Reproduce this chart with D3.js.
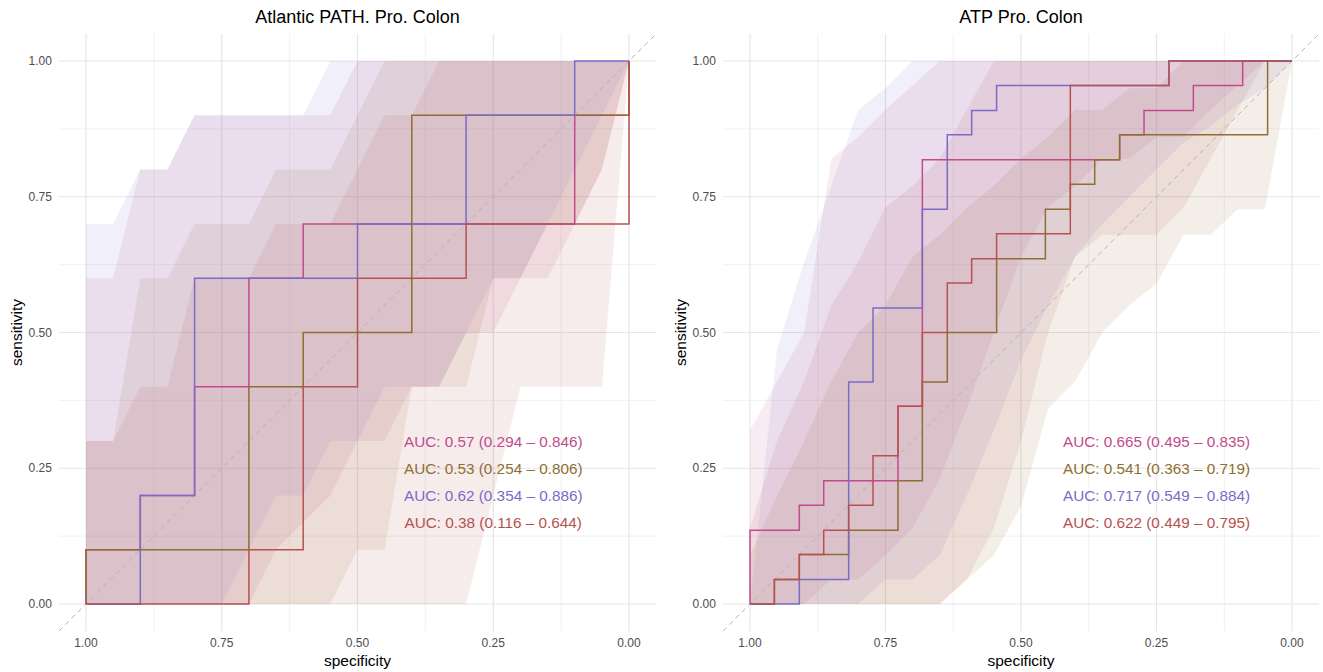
<!DOCTYPE html>
<html lang="en">
<head>
<meta charset="utf-8">
<title>ROC curves - Pro. Colon</title>
<script src="https://cdn.jsdelivr.net/npm/d3@7"></script>
<style>
  body { margin: 0; background: #fff; }
  text { font-family: "Liberation Sans", Arial, Helvetica, sans-serif; }
</style>
</head>
<body>
<div id="chart"></div>
<script>
// model order / colours (legend order in the AUC labels)
var models = ['pink', 'brown', 'purple', 'red'];
var colors = ['#C24A8C', '#8E6E32', '#7B6AC6', '#B5524F'];

var ticks = [1, 0.75, 0.5, 0.25, 0];
var minorTicks = [0.875, 0.625, 0.375, 0.125];

// specificities where the CI of sensitivity was computed
var ciSpec = [1, 0.95, 0.9, 0.85, 0.8, 0.75, 0.7, 0.65, 0.6, 0.55, 0.5, 0.45, 0.4, 0.35, 0.3, 0.25, 0.2, 0.15, 0.1, 0.05, 0];

// ---- panel 1: Atlantic PATH. Pro. Colon ----
var p1Titles = 'Atlantic PATH. Pro. Colon';
var p1Auc = ['AUC: 0.57 (0.294 \u2013 0.846)', 'AUC: 0.53 (0.254 \u2013 0.806)',
             'AUC: 0.62 (0.354 \u2013 0.886)', 'AUC: 0.38 (0.116 \u2013 0.644)'];

var p1PinkSpec   = [1, 1, 0.9, 0.9, 0.8, 0.8, 0.7, 0.7, 0.6, 0.6, 0.1, 0.1, 0, 0];
var p1PinkSens   = [0, 0.1, 0.1, 0.2, 0.2, 0.4, 0.4, 0.6, 0.6, 0.7, 0.7, 0.9, 0.9, 1];
var p1BrownSpec  = [1, 1, 0.7, 0.7, 0.6, 0.6, 0.4, 0.4, 0, 0];
var p1BrownSens  = [0, 0.1, 0.1, 0.4, 0.4, 0.5, 0.5, 0.9, 0.9, 1];
var p1PurpleSpec = [1, 0.9, 0.9, 0.8, 0.8, 0.5, 0.5, 0.3, 0.3, 0.1, 0.1, 0];
var p1PurpleSens = [0, 0, 0.2, 0.2, 0.6, 0.6, 0.7, 0.7, 0.9, 0.9, 1, 1];
var p1RedSpec    = [1, 0.7, 0.7, 0.6, 0.6, 0.5, 0.5, 0.3, 0.3, 0, 0];
var p1RedSens    = [0, 0, 0.1, 0.1, 0.4, 0.4, 0.6, 0.6, 0.7, 0.7, 1];

var p1PinkLo   = [0, 0, 0, 0, 0, 0, 0, 0.1, 0.15, 0.2, 0.3, 0.3, 0.4, 0.4, 0.5, 0.5, 0.6, 0.6, 0.7, 0.8, 1];
var p1PinkHi   = [0.6, 0.6, 0.8, 0.8, 0.9, 0.9, 0.9, 0.9, 0.9, 0.9, 1, 1, 1, 1, 1, 1, 1, 1, 1, 1, 1];
var p1BrownLo  = [0, 0, 0, 0, 0, 0, 0, 0, 0, 0, 0.1, 0.1, 0.4, 0.4, 0.4, 0.6, 0.6, 0.7, 0.7, 0.8, 1];
var p1BrownHi  = [0.3, 0.3, 0.6, 0.6, 0.7, 0.7, 0.7, 0.8, 0.8, 0.8, 0.9, 1, 1, 1, 1, 1, 1, 1, 1, 1, 1];
var p1PurpleLo = [0, 0, 0, 0, 0, 0, 0.1, 0.2, 0.2, 0.3, 0.3, 0.4, 0.4, 0.4, 0.5, 0.6, 0.6, 0.7, 0.8, 0.9, 1];
var p1PurpleHi = [0.7, 0.7, 0.8, 0.8, 0.9, 0.9, 0.9, 0.9, 0.9, 1, 1, 1, 1, 1, 1, 1, 1, 1, 1, 1, 1];
var p1RedLo    = [0, 0, 0, 0, 0, 0, 0, 0, 0, 0, 0, 0, 0, 0, 0, 0.2, 0.4, 0.4, 0.4, 0.4, 1];
var p1RedHi    = [0.3, 0.3, 0.4, 0.4, 0.6, 0.6, 0.6, 0.7, 0.7, 0.7, 0.8, 0.9, 0.9, 1, 1, 1, 1, 1, 1, 1, 1];

// ---- panel 2: ATP Pro. Colon ----
var p2Titles = 'ATP Pro. Colon';
var p2Auc = ['AUC: 0.665 (0.495 \u2013 0.835)', 'AUC: 0.541 (0.363 \u2013 0.719)',
             'AUC: 0.717 (0.549 \u2013 0.884)', 'AUC: 0.622 (0.449 \u2013 0.795)'];

var p2PinkSpec   = [1, 1, 0.909, 0.909, 0.864, 0.864, 0.727, 0.727, 0.682, 0.682, 0.318, 0.318, 0.273, 0.273, 0.182, 0.182, 0.091, 0.091, 0];
var p2PinkSens   = [0, 0.136, 0.136, 0.182, 0.182, 0.227, 0.227, 0.364, 0.364, 0.818, 0.818, 0.864, 0.864, 0.909, 0.909, 0.955, 0.955, 1, 1];
var p2BrownSpec  = [1, 0.955, 0.955, 0.909, 0.909, 0.818, 0.818, 0.727, 0.727, 0.682, 0.682, 0.636, 0.636, 0.545, 0.545, 0.455, 0.455, 0.409, 0.409, 0.364, 0.364, 0.318, 0.318, 0.045, 0.045, 0];
var p2BrownSens  = [0, 0, 0.045, 0.045, 0.091, 0.091, 0.136, 0.136, 0.227, 0.227, 0.409, 0.409, 0.5, 0.5, 0.636, 0.636, 0.727, 0.727, 0.773, 0.773, 0.818, 0.818, 0.864, 0.864, 1, 1];
var p2PurpleSpec = [1, 0.909, 0.909, 0.818, 0.818, 0.773, 0.773, 0.682, 0.682, 0.636, 0.636, 0.591, 0.591, 0.545, 0.545, 0.227, 0.227, 0];
var p2PurpleSens = [0, 0, 0.045, 0.045, 0.409, 0.409, 0.545, 0.545, 0.727, 0.727, 0.864, 0.864, 0.909, 0.909, 0.955, 0.955, 1, 1];
var p2RedSpec    = [1, 0.955, 0.955, 0.909, 0.909, 0.864, 0.864, 0.818, 0.818, 0.773, 0.773, 0.727, 0.727, 0.682, 0.682, 0.636, 0.636, 0.591, 0.591, 0.545, 0.545, 0.409, 0.409, 0.227, 0.227, 0];
var p2RedSens    = [0, 0, 0.045, 0.045, 0.091, 0.091, 0.136, 0.136, 0.182, 0.182, 0.273, 0.273, 0.364, 0.364, 0.5, 0.5, 0.591, 0.591, 0.636, 0.636, 0.682, 0.682, 0.955, 0.955, 1, 1];

var p2PinkLo   = [0, 0, 0, 0.045, 0.045, 0.09, 0.14, 0.23, 0.36, 0.5, 0.64, 0.73, 0.77, 0.82, 0.82, 0.86, 0.86, 0.91, 0.955, 1, 1];
var p2PinkHi   = [0.32, 0.41, 0.5, 0.82, 0.86, 0.91, 0.955, 1, 1, 1, 1, 1, 1, 1, 1, 1, 1, 1, 1, 1, 1];
var p2BrownLo  = [0, 0, 0, 0, 0, 0, 0, 0, 0.045, 0.09, 0.18, 0.36, 0.41, 0.5, 0.55, 0.59, 0.68, 0.68, 0.727, 0.727, 1];
var p2BrownHi  = [0.09, 0.2, 0.3, 0.41, 0.5, 0.55, 0.64, 0.68, 0.73, 0.77, 0.82, 0.86, 0.91, 0.91, 0.95, 0.95, 1, 1, 1, 1, 1];
var p2PurpleLo = [0, 0, 0, 0, 0, 0.045, 0.045, 0.09, 0.2, 0.32, 0.45, 0.55, 0.64, 0.7, 0.75, 0.8, 0.85, 0.88, 0.92, 0.95, 1];
var p2PurpleHi = [0, 0.47, 0.63, 0.77, 0.91, 0.95, 1, 1, 1, 1, 1, 1, 1, 1, 1, 1, 1, 1, 1, 1, 1];
var p2RedLo    = [0, 0, 0, 0, 0, 0, 0, 0, 0.045, 0.14, 0.3, 0.5, 0.64, 0.68, 0.68, 0.68, 0.73, 0.82, 0.91, 1, 1];
var p2RedHi    = [0.14, 0.3, 0.41, 0.55, 0.63, 0.73, 0.77, 0.82, 0.91, 1, 1, 1, 1, 1, 1, 1, 1, 1, 1, 1, 1];

function zip(a, b) { return a.map(function(v, i) { return [v, b[i]]; }); }

var panels = [
  { title: p1Titles, auc: p1Auc, left: 86, right: 629,
    curves: [zip(p1PinkSpec, p1PinkSens), zip(p1BrownSpec, p1BrownSens), zip(p1PurpleSpec, p1PurpleSens), zip(p1RedSpec, p1RedSens)],
    bands: [[p1PinkLo, p1PinkHi], [p1BrownLo, p1BrownHi], [p1PurpleLo, p1PurpleHi], [p1RedLo, p1RedHi]] },
  { title: p2Titles, auc: p2Auc, left: 750, right: 1292,
    curves: [zip(p2PinkSpec, p2PinkSens), zip(p2BrownSpec, p2BrownSens), zip(p2PurpleSpec, p2PurpleSens), zip(p2RedSpec, p2RedSens)],
    bands: [[p2PinkLo, p2PinkHi], [p2BrownLo, p2BrownHi], [p2PurpleLo, p2PurpleHi], [p2RedLo, p2RedHi]] }
];

var width = 1323, height = 672;
var svg = d3.select('#chart').append('svg')
  .attr('width', width).attr('height', height);

panels.forEach(function(p) {
  var x = d3.scaleLinear().domain([1, 0]).range([p.left, p.right]);
  var y = d3.scaleLinear().domain([0, 1]).range([604, 61]);
  var pad = 0.05;
  var px0 = x(1 + pad), px1 = x(-pad), py0 = y(-pad), py1 = y(1 + pad);

  var g = svg.append('g');

  // grid
  g.selectAll('.vminor').data(minorTicks).enter().append('line')
    .attr('x1', x).attr('x2', x).attr('y1', py0).attr('y2', py1)
    .attr('stroke', '#EDEDED').attr('stroke-width', 0.8);
  g.selectAll('.hminor').data(minorTicks).enter().append('line')
    .attr('y1', y).attr('y2', y).attr('x1', px0).attr('x2', px1)
    .attr('stroke', '#EDEDED').attr('stroke-width', 0.8);
  g.selectAll('.vmajor').data(ticks).enter().append('line')
    .attr('x1', x).attr('x2', x).attr('y1', py0).attr('y2', py1)
    .attr('stroke', '#E6E6E6').attr('stroke-width', 1.2);
  g.selectAll('.hmajor').data(ticks).enter().append('line')
    .attr('y1', y).attr('y2', y).attr('x1', px0).attr('x2', px1)
    .attr('stroke', '#E6E6E6').attr('stroke-width', 1.2);

  // confidence bands
  var area = d3.area()
    .x(function(d) { return x(d[0]); })
    .y0(function(d) { return y(d[1]); })
    .y1(function(d) { return y(d[2]); });
  p.bands.forEach(function(b, i) {
    var pts = ciSpec.map(function(s, k) { return [s, b[0][k], b[1][k]]; });
    g.append('path').attr('d', area(pts))
      .attr('fill', colors[i]).attr('fill-opacity', 0.11);
  });

  // chance line
  g.append('line')
    .attr('x1', px0).attr('y1', py0).attr('x2', px1).attr('y2', py1)
    .attr('stroke', '#B5B5B5').attr('stroke-width', 1)
    .attr('stroke-dasharray', '5,4');

  // ROC curves
  var line = d3.line()
    .x(function(d) { return x(d[0]); })
    .y(function(d) { return y(d[1]); });
  p.curves.forEach(function(c, i) {
    g.append('path').attr('d', line(c))
      .attr('fill', 'none').attr('stroke', colors[i]).attr('stroke-width', 1.5);
  });

  // AUC labels
  var labelSens = [0.30, 0.25, 0.20, 0.15];
  g.selectAll('.auc').data(p.auc).enter().append('text')
    .attr('x', x(0.25)).attr('y', function(d, i) { return y(labelSens[i]); })
    .attr('dy', '0.36em').attr('text-anchor', 'middle')
    .attr('font-size', 15.3).attr('fill', function(d, i) { return colors[i]; })
    .text(function(d) { return d; });

  // axes labels
  g.selectAll('.xt').data(ticks).enter().append('text')
    .attr('x', x).attr('y', 643).attr('dy', '0.35em')
    .attr('text-anchor', 'middle').attr('font-size', 12).attr('fill', '#4D4D4D')
    .text(d3.format('.2f'));
  g.selectAll('.yt').data(ticks).enter().append('text')
    .attr('x', px0 - 7).attr('y', y).attr('dy', '0.35em')
    .attr('text-anchor', 'end').attr('font-size', 12).attr('fill', '#4D4D4D')
    .text(d3.format('.2f'));

  g.append('text')
    .attr('x', x(0.5)).attr('y', 661).attr('dy', '0.35em')
    .attr('text-anchor', 'middle').attr('font-size', 15.5).attr('fill', '#000')
    .text('specificity');
  g.append('text')
    .attr('transform', 'translate(' + (px0 - 42) + ',' + y(0.5) + ') rotate(-90)')
    .attr('dy', '0.35em').attr('text-anchor', 'middle')
    .attr('font-size', 15.5).attr('fill', '#000')
    .text('sensitivity');

  g.append('text')
    .attr('x', x(0.5)).attr('y', 17).attr('dy', '0.35em')
    .attr('text-anchor', 'middle').attr('font-size', 18).attr('fill', '#000')
    .text(p.title);
});
</script>
</body>
</html>
